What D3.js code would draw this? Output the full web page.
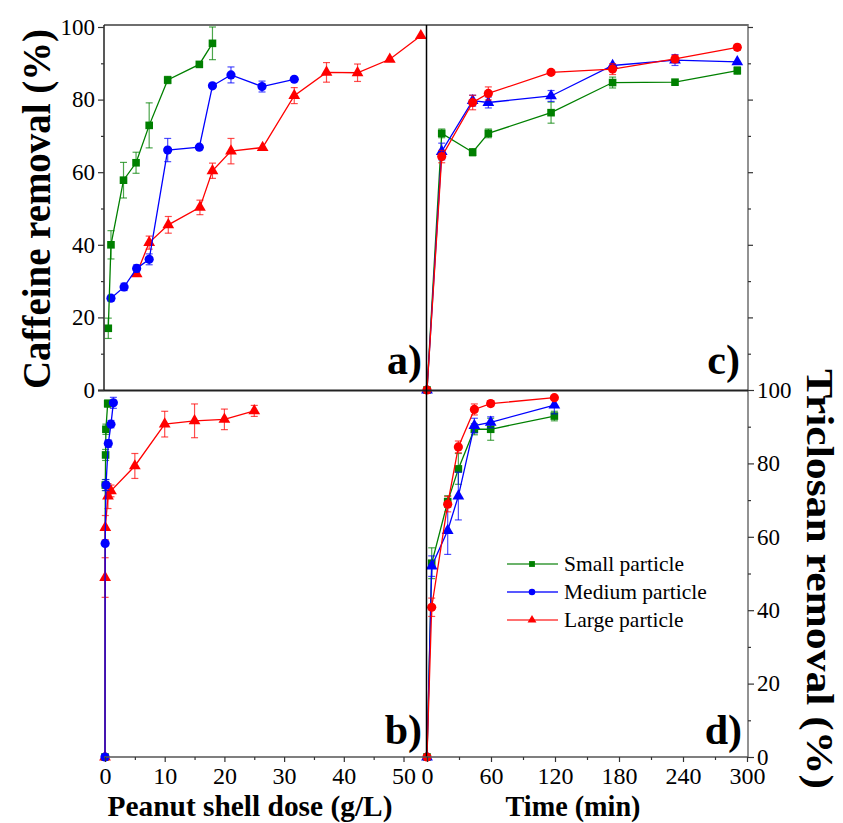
<!DOCTYPE html>
<html>
<head>
<meta charset="utf-8">
<script src="https://cdn.jsdelivr.net/npm/d3@7"></script>
<style>
  body { margin: 0; background: #fff; }
  svg text { font-family: "Liberation Serif", "Times New Roman", serif; }
</style>
</head>
<body>
<div id="chart"></div>
<script>
// a) caffeine removal vs peanut shell dose (g/L)
var doseA_small = [0.55, 1.0, 3.1, 5.2, 7.4, 10.5, 15.8, 18.0];
var caffA_small = [17.0, 40.0, 57.8, 62.6, 72.9, 85.4, 89.7, 95.5];
var caffA_small_err = [2.8, 3.9, 4.9, 2.9, 6.2, 1.0, 0.5, 4.5];

var doseA_medium = [1.0, 3.2, 5.3, 7.4, 10.5, 15.8, 18.0, 21.1, 26.3, 31.7];
var caffA_medium = [25.3, 28.4, 33.5, 36.0, 66.1, 66.9, 83.8, 86.8, 83.6, 85.6];
var caffA_medium_err = [0.8, 1.0, 1.0, 1.5, 3.2, 0.5, 0.5, 2.2, 1.5, 0.5];

var doseA_large = [5.3, 7.4, 10.6, 15.9, 18.0, 21.1, 26.4, 31.7, 37.1, 42.3, 47.7, 52.9];
var caffA_large = [32.0, 40.6, 45.5, 50.3, 60.4, 65.8, 66.8, 81.1, 87.5, 87.4, 91.1, 97.6];
var caffA_large_err = [0.5, 1.8, 2.3, 2.0, 2.1, 3.5, 0.5, 2.2, 2.7, 2.4, 0.5, 0.5];

// b) triclosan removal vs dose
var doseB_small = [0, 0.05, 0.1, 0.15, 0.45];
var tricB_small = [0, 74.1, 82.3, 89.3, 96.3];
var tricB_small_err = [0, 1.5, 1.5, 1.4, 1.0];

var doseB_medium = [0, 0.02, 0.17, 0.55, 1.0, 1.4];
var tricB_medium = [0, 58.2, 74.1, 85.4, 90.7, 96.5];
var tricB_medium_err = [0, 0.5, 1.5, 1.0, 1.0, 1.5];

var doseB_large = [0, 0.02, 0.05, 0.5, 1.0, 5.0, 10.0, 15.0, 20.0, 25.0];
var tricB_large = [0, 48.9, 62.5, 71.1, 72.5, 79.3, 90.7, 91.6, 92.0, 94.3];
var tricB_large_err = [0, 5.4, 3.3, 3.4, 1.6, 3.4, 3.5, 4.6, 2.8, 1.5];

// c) caffeine removal vs time (min)
var timeC = [0, 13.8, 42.8, 57.5, 116.3, 174, 232.5, 290.9];
var caffC_small = [0, 70.7, 65.5, 70.7, 76.4, 84.7, 84.8, 88.0];
var caffC_small_err = [0, 1.2, 1.0, 1.2, 2.9, 1.5, 0.4, 1.0];
var caffC_medium = [0, 65.7, 79.7, 79.2, 81.0, 89.4, 90.9, 90.4];
var caffC_medium_err = [0, 2.3, 1.5, 1.5, 1.5, 0.6, 1.5, 0.5];
var caffC_large = [0, 64.3, 79.2, 81.7, 87.5, 88.4, 91.2, 94.4];
var caffC_large_err = [0, 1.7, 2.0, 1.8, 0.4, 1.5, 1.0, 0.8];

// d) triclosan removal vs time
var timeD = [0, 4.4, 19.4, 29.4, 44.4, 59.7, 119.4];
var tricD_small = [0, 52.8, 69.6, 78.5, 89.3, 89.3, 92.9];
var tricD_small_err = [0, 4.2, 1.6, 4.2, 1.5, 3.0, 1.3];
var tricD_medium = [0, 52.0, 61.7, 71.1, 90.3, 91.2, 95.9];
var tricD_medium_err = [0, 2.8, 6.5, 6.5, 2.0, 1.5, 2.4];
var tricD_large = [0, 40.8, 68.9, 84.5, 94.7, 96.3, 97.9];
var tricD_large_err = [0, 2.5, 2.1, 1.6, 1.5, 0.8, 0.5];

var seriesNames = ["Small particle", "Medium particle", "Large particle"];
var doseTicks = [0, 10, 20, 30, 40, 50];
var timeTicks = [0, 60, 120, 180, 240, 300];
var pctTicks = [0, 20, 40, 60, 80, 100];

var colors = { small: "#008000", medium: "#0000ff", large: "#ff0000" };
var serif = "'Liberation Serif', 'Times New Roman', serif";

var width = 843, height = 823;
var svg = d3.select("#chart").append("svg")
  .attr("width", width)
  .attr("height", height)
  .attr("font-family", serif);

var xDose = d3.scaleLinear().domain([0, 54]).range([105, 427.4]);
var xTime = d3.scaleLinear().domain([0, 300]).range([427, 747]);
var yTop = d3.scaleLinear().domain([0, 100]).range([390, 27]);
var yBot = d3.scaleLinear().domain([0, 100]).range([757, 390]);

var symbols = {
  square: d3.symbol().type(d3.symbolSquare).size(58),
  circle: d3.symbol().type(d3.symbolCircle).size(66),
  triangle: d3.symbol().type(d3.symbolTriangle).size(60)
};

function drawSeries(xs, ys, errs, x, y, color, shape) {
  var g = svg.append("g");
  var pts = xs.map(function (d, i) { return { x: d, y: ys[i], e: errs[i] }; });

  var eb = g.selectAll(".err")
    .data(pts.filter(function (d) { return d.e > 0.6; }))
    .enter().append("g")
    .attr("stroke", color)
    .attr("stroke-opacity", 0.7)
    .attr("stroke-width", 1.2);
  eb.append("line")
    .attr("x1", function (d) { return x(d.x); })
    .attr("x2", function (d) { return x(d.x); })
    .attr("y1", function (d) { return y(d.y - d.e); })
    .attr("y2", function (d) { return y(d.y + d.e); });
  [-1, 1].forEach(function (s) {
    eb.append("line")
      .attr("x1", function (d) { return x(d.x) - 3.5; })
      .attr("x2", function (d) { return x(d.x) + 3.5; })
      .attr("y1", function (d) { return y(d.y + s * d.e); })
      .attr("y2", function (d) { return y(d.y + s * d.e); });
  });

  g.append("path")
    .datum(pts)
    .attr("fill", "none")
    .attr("stroke", color)
    .attr("stroke-width", 1.3)
    .attr("d", d3.line().x(function (d) { return x(d.x); }).y(function (d) { return y(d.y); }));

  g.selectAll(".pt")
    .data(pts)
    .enter().append("path")
    .attr("transform", function (d) { return "translate(" + x(d.x) + "," + y(d.y) + ")"; })
    .attr("d", symbols[shape])
    .attr("fill", color);
}

// panel a
drawSeries(doseA_large, caffA_large, caffA_large_err, xDose, yTop, colors.large, "triangle");
drawSeries(doseA_medium, caffA_medium, caffA_medium_err, xDose, yTop, colors.medium, "circle");
drawSeries(doseA_small, caffA_small, caffA_small_err, xDose, yTop, colors.small, "square");

// panel b
drawSeries(doseB_small, tricB_small, tricB_small_err, xDose, yBot, colors.small, "square");
drawSeries(doseB_large, tricB_large, tricB_large_err, xDose, yBot, colors.large, "triangle");
drawSeries(doseB_medium, tricB_medium, tricB_medium_err, xDose, yBot, colors.medium, "circle");

// panel c (medium drawn with triangles, large with circles as in the figure)
drawSeries(timeC, caffC_small, caffC_small_err, xTime, yTop, colors.small, "square");
drawSeries(timeC, caffC_medium, caffC_medium_err, xTime, yTop, colors.medium, "triangle");
drawSeries(timeC, caffC_large, caffC_large_err, xTime, yTop, colors.large, "circle");

// panel d
drawSeries(timeD, tricD_small, tricD_small_err, xTime, yBot, colors.small, "square");
drawSeries(timeD, tricD_medium, tricD_medium_err, xTime, yBot, colors.medium, "triangle");
drawSeries(timeD, tricD_large, tricD_large_err, xTime, yBot, colors.large, "circle");

// frame lines
function frameLine(x1, y1, x2, y2, c, w) {
  svg.append("line").attr("x1", x1).attr("y1", y1).attr("x2", x2).attr("y2", y2)
    .attr("stroke", c).attr("stroke-width", w);
}
frameLine(104, 25, 748, 25, "#6e6e6e", 2);
frameLine(748, 24, 748, 757, "#6e6e6e", 1.5);
frameLine(104, 25, 104, 391, "#222", 1.5);
frameLine(98, 390.5, 748, 390.5, "#222", 2);
frameLine(426.5, 25, 426.5, 757, "#000", 1.5);
frameLine(104, 757, 748, 757, "#555", 1.5);

function styleAxis(g, size) {
  g.attr("font-family", serif);
  g.select(".domain").remove();
  g.selectAll("line").attr("stroke", "#333").attr("stroke-width", 1.2);
  g.selectAll("text").attr("font-size", size).attr("fill", "#000");
}

// left axis (caffeine)
svg.append("g").attr("transform", "translate(104,0)")
  .call(d3.axisLeft(yTop).tickValues(pctTicks).tickSize(6).tickPadding(3))
  .call(styleAxis, 23);
svg.append("g").attr("transform", "translate(104,0)")
  .call(d3.axisLeft(yTop).tickValues([10, 30, 50, 70, 90]).tickSize(3).tickFormat(""))
  .call(styleAxis, 23);

// right axis of panel c (no labels)
svg.append("g").attr("transform", "translate(748,0)")
  .call(d3.axisRight(yTop).tickValues([20, 40, 60, 80, 100]).tickSize(5).tickFormat(""))
  .call(styleAxis, 23);
svg.append("g").attr("transform", "translate(748,0)")
  .call(d3.axisRight(yTop).tickValues([10, 30, 50, 70, 90]).tickSize(3).tickFormat(""))
  .call(styleAxis, 23);

// right axis (triclosan)
svg.append("g").attr("transform", "translate(748,0)")
  .call(d3.axisRight(yBot).tickValues(pctTicks).tickSize(6).tickPadding(3))
  .call(styleAxis, 23);
svg.append("g").attr("transform", "translate(748,0)")
  .call(d3.axisRight(yBot).tickValues([10, 30, 50, 70, 90]).tickSize(3).tickFormat(""))
  .call(styleAxis, 23);

// bottom axes
svg.append("g").attr("transform", "translate(0,757)")
  .call(d3.axisBottom(xDose).tickValues(doseTicks).tickSize(5).tickPadding(5))
  .call(styleAxis, 24);
svg.append("g").attr("transform", "translate(0,757)")
  .call(d3.axisBottom(xDose).tickValues([5, 15, 25, 35, 45]).tickSize(3).tickFormat(""))
  .call(styleAxis, 24);
svg.append("g").attr("transform", "translate(0,757)")
  .call(d3.axisBottom(xTime).tickValues(timeTicks).tickSize(5).tickPadding(5))
  .call(styleAxis, 24);
svg.append("g").attr("transform", "translate(0,757)")
  .call(d3.axisBottom(xTime).tickValues([30, 90, 150, 210, 270]).tickSize(3).tickFormat(""))
  .call(styleAxis, 24);

// axis titles
svg.append("text")
  .attr("transform", "translate(50,209) rotate(-90)")
  .attr("text-anchor", "middle")
  .attr("font-size", 40).attr("font-weight", "bold")
  .attr("textLength", 360).attr("lengthAdjust", "spacingAndGlyphs")
  .text("Caffeine removal (%)");
svg.append("text")
  .attr("transform", "translate(807,579) rotate(90)")
  .attr("text-anchor", "middle")
  .attr("font-size", 37).attr("font-weight", "bold")
  .attr("textLength", 420).attr("lengthAdjust", "spacingAndGlyphs")
  .text("Triclosan removal (%)");
svg.append("text")
  .attr("x", 250).attr("y", 816)
  .attr("text-anchor", "middle")
  .attr("font-size", 30).attr("font-weight", "bold")
  .attr("textLength", 285).attr("lengthAdjust", "spacingAndGlyphs")
  .text("Peanut shell dose (g/L)");
svg.append("text")
  .attr("x", 573).attr("y", 816)
  .attr("text-anchor", "middle")
  .attr("font-size", 30).attr("font-weight", "bold")
  .attr("textLength", 135).attr("lengthAdjust", "spacingAndGlyphs")
  .text("Time (min)");

// panel letters
var panelLabels = [
  { t: "a)", x: 422, y: 374 },
  { t: "b)", x: 422, y: 744 },
  { t: "c)", x: 740, y: 374 },
  { t: "d)", x: 742, y: 744 }
];
svg.selectAll(".plab").data(panelLabels).enter().append("text")
  .attr("x", function (d) { return d.x; })
  .attr("y", function (d) { return d.y; })
  .attr("text-anchor", "end")
  .attr("font-size", 42).attr("font-weight", "bold")
  .text(function (d) { return d.t; });

// legend
var legendKeys = [
  { name: seriesNames[0], color: "#3a9a3a", mark: colors.small, shape: d3.symbolSquare, size: 34 },
  { name: seriesNames[1], color: "#2020ff", mark: colors.medium, shape: d3.symbolCircle, size: 34 },
  { name: seriesNames[2], color: "#ff4040", mark: colors.large, shape: d3.symbolTriangle, size: 34 }
];
var leg = svg.append("g").attr("transform", "translate(507,564)");
var rows = leg.selectAll("g").data(legendKeys).enter().append("g")
  .attr("transform", function (d, i) { return "translate(0," + i * 28 + ")"; });
rows.append("line").attr("x1", 0).attr("x2", 51).attr("y1", 0).attr("y2", 0)
  .attr("stroke", function (d) { return d.color; }).attr("stroke-width", 1.3);
rows.append("path").attr("transform", "translate(25,0)")
  .attr("d", function (d) { return d3.symbol().type(d.shape).size(d.size)(); })
  .attr("fill", function (d) { return d.mark; });
rows.append("text").attr("x", 57).attr("y", 7)
  .attr("font-size", 21.5)
  .text(function (d) { return d.name; });
</script>
</body>
</html>
